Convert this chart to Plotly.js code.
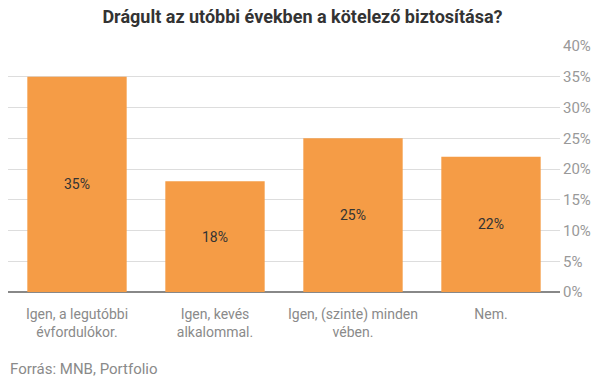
<!DOCTYPE html>
<html><head><meta charset="utf-8">
<script src="https://cdn.plot.ly/plotly-3.0.1.min.js"></script>
<style>html,body{margin:0;padding:0;background:#fff}#c{width:605px;height:378px}</style>
</head><body><div id="c"></div>
<script>
const categories = ["Igen, a legutóbbi<br>évfordulókor.", "Igen, kevés<br>alkalommal.", "Igen, (szinte) minden<br>vében.", "Nem."];
const values = [35, 18, 25, 22];
const tickVals = [0, 5, 10, 15, 20, 25, 30, 35, 40];
const tickText = tickVals.map(v => v + "%");

Plotly.newPlot("c", [{
  type: "bar",
  x: categories,
  y: values,
  marker: {color: "#f59c46"},
  text: values.map(v => v + "%"),
  textposition: "inside",
  insidetextanchor: "middle",
  textfont: {family: "Roboto", size: 14, color: "#333"},
  hoverinfo: "none"
}], {
  width: 605, height: 378,
  margin: {l: 8, r: 45, t: 46, b: 86},
  paper_bgcolor: "#fff", plot_bgcolor: "#fff",
  bargap: 0.28,
  showlegend: false,
  title: {text: "<b>Drágult az utóbbi években a kötelező biztosítása?</b>", x: 0.5, xanchor: "center", y: 0.955, yanchor: "middle",
    font: {family: "Roboto", size: 18, color: "#333"}},
  xaxis: {tickfont: {family: "Roboto", size: 14, color: "#8a8a8a"}, showline: false, ticks: "", ticklabelstandoff: 12, fixedrange: true},
  yaxis: {side: "right", range: [0, 40], tickvals: tickVals, ticktext: tickText,
    tickfont: {family: "Roboto", size: 15, color: "#999"}, gridcolor: "#dddddd", gridwidth: 1,
    zeroline: true, zerolinecolor: "#888", zerolinewidth: 1.5, ticks: "", ticklen: 0, ticklabelstandoff: 2},
  annotations: [{text: "Forrás: MNB, Portfolio", xref: "paper", yref: "paper", x: 0, y: 0, xanchor: "left", yanchor: "bottom",
    yshift: -88, xshift: 0, showarrow: false, font: {family: "Roboto", size: 15, color: "#8a8a8a"}}]
}, {displayModeBar: false, staticPlot: true});
</script></body></html>
